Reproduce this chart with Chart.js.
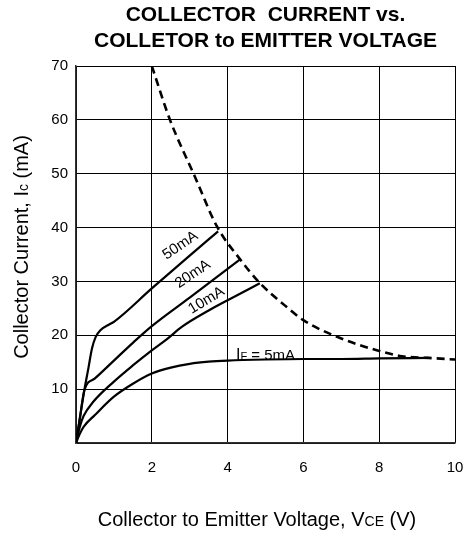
<!DOCTYPE html>
<html>
<head>
<meta charset="utf-8">
<script src="https://cdn.jsdelivr.net/npm/chart.js@4/dist/chart.umd.min.js"></script>
<style>
  html, body { margin: 0; padding: 0; background: #fff; }
  #wrap { width: 467px; height: 534px; }
</style>
</head>
<body>
<div id="wrap"><canvas id="icChart" width="467" height="534"></canvas></div>
<script>
// values (Vce in V, Ic in mA)
const vce50 = [0, 0.1, 0.22, 0.33, 0.42, 0.52, 0.65, 0.85, 1.0, 2.0, 3.0, 3.75];
const ic50  = [0, 4.5, 9.8, 14.0, 17.5, 19.7, 21.0, 21.9, 22.5, 28.7, 34.8, 39.3];

const vce20 = [0, 0.1, 0.22, 0.5, 1.0, 1.5, 2.0, 3.0, 4.33];
const ic20  = [0, 4.5, 9.8, 12.0, 15.3, 18.6, 21.7, 27.0, 34.1];

const vce10 = [0, 0.1, 0.2, 0.45, 1.0, 1.5, 2.0, 2.4, 2.8, 3.5, 4.0, 4.85];
const ic10  = [0, 3.0, 5.0, 7.6, 11.4, 14.4, 17.2, 19.3, 21.6, 24.6, 26.5, 29.65];

const vce5 = [0, 0.1, 0.2, 0.5, 1.0, 1.5, 2.0, 2.5, 3.0, 3.5, 4.0, 5.0, 6.0, 7.0, 8.0, 9.3];
const ic5  = [0, 1.7, 3.0, 5.2, 8.6, 11.0, 12.9, 14.0, 14.7, 15.1, 15.3, 15.5, 15.6, 15.6, 15.7, 15.8];

// max power dissipation limit (dashed)
const vceMax = [2.0, 2.48, 3.14, 3.72, 4.33, 4.85, 5.5, 6.0, 7.0, 8.0, 8.6, 9.3, 10];
const icMax  = [70, 60, 49.4, 40.2, 34.1, 29.7, 25.6, 22.8, 19.4, 17.1, 16.1, 15.8, 15.5];

const xTicks = [0, 2, 4, 6, 8, 10];
const yTicks = [0, 10, 20, 30, 40, 50, 60, 70];

const FONT = "'Liberation Sans', Arial, Helvetica, sans-serif";

function pts(xs, ys) {
    return xs.map((x, i) => ({ x: x, y: ys[i] }));
}

function curve(label, xs, ys, dashed) {
    return {
        label: label,
        data: pts(xs, ys),
        borderColor: '#000',
        borderWidth: dashed ? 2.6 : 2.2,
        borderDash: dashed ? [8, 5] : [],
        pointRadius: 0,
        fill: false,
        cubicInterpolationMode: 'monotone'
    };
}

// draw a row of text pieces with their own sizes, centred on x
function drawRuns(ctx, runs, x, y) {
    let total = 0;
    runs.forEach(r => {
        ctx.font = r[1] + 'px ' + FONT;
        total += ctx.measureText(r[0]).width;
    });
    let cx = x - total / 2;
    ctx.textAlign = 'left';
    ctx.textBaseline = 'alphabetic';
    runs.forEach(r => {
        ctx.font = r[1] + 'px ' + FONT;
        ctx.fillText(r[0], cx, y);
        cx += ctx.measureText(r[0]).width;
    });
}

// curve labels, placed in data units
const curveLabels = [
    { runs: [['50mA', 15]], x: 2.74, y: 36.8, angle: -34 },
    { runs: [['20mA', 15]], x: 3.07, y: 31.5, angle: -34 },
    { runs: [['10mA', 15]], x: 3.43, y: 26.6, angle: -31 },
    { runs: [['I', 16], ['F', 11], [' = 5mA', 15]], x: 5.0, y: 16.3, angle: 0 }
];

const textPlugin = {
    id: 'textPlugin',
    afterDraw(chart) {
        const ctx = chart.ctx;
        const xs = chart.scales.x, ys = chart.scales.y;
        ctx.save();
        ctx.fillStyle = '#000';

        curveLabels.forEach(l => {
            ctx.save();
            ctx.translate(xs.getPixelForValue(l.x), ys.getPixelForValue(l.y));
            ctx.rotate(l.angle * Math.PI / 180);
            drawRuns(ctx, l.runs, 0, 5);
            ctx.restore();
        });

        // x axis title
        drawRuns(ctx, [['Collector to Emitter Voltage, V', 20], ['CE', 14], [' (V)', 20]], 257, 526);

        // y axis title
        ctx.save();
        ctx.translate(28, 247);
        ctx.rotate(-Math.PI / 2);
        drawRuns(ctx, [['Collector Current, I', 20], ['c', 14], [' (mA)', 20]], 0, 0);
        ctx.restore();

        ctx.restore();
    }
};

const ctx = document.getElementById('icChart').getContext('2d');
const icChart = new Chart(ctx, {
    type: 'line',
    data: {
        datasets: [
            curve('50mA', vce50, ic50, false),
            curve('20mA', vce20, ic20, false),
            curve('10mA', vce10, ic10, false),
            curve('5mA', vce5, ic5, false),
            curve('Pc max', vceMax, icMax, true)
        ]
    },
    options: {
        responsive: false,
        animation: false,
        layout: { padding: { top: 3, right: 12, left: 0, bottom: 0 } },
        plugins: {
            legend: { display: false },
            tooltip: { enabled: false },
            title: {
                display: true,
                fullSize: false,
                text: ['COLLECTOR  CURRENT vs.', 'COLLETOR to EMITTER VOLTAGE'],
                color: '#000',
                font: { family: FONT, size: 21, weight: 'bold', lineHeight: 1.2 },
                padding: { top: 0, bottom: 12.6 }
            }
        },
        scales: {
            x: {
                type: 'linear',
                min: 0,
                max: 10,
                afterBuildTicks: s => { s.ticks = xTicks.map(v => ({ value: v })); },
                afterFit: s => { s.height = 91; },
                ticks: { color: '#000', padding: 3, font: { family: FONT, size: 15 } },
                grid: { color: '#000', lineWidth: 1, drawTicks: true, tickLength: 13, tickColor: 'rgba(0,0,0,0)' },
                border: { color: '#333', width: 1.5 }
            },
            y: {
                type: 'linear',
                min: 0,
                max: 70,
                afterBuildTicks: s => { s.ticks = yTicks.map(v => ({ value: v })); },
                afterFit: s => { s.width = 76; },
                ticks: {
                    color: '#000',
                    padding: 8,
                    font: { family: FONT, size: 15 },
                    callback: v => (v === 0 ? '' : v)
                },
                grid: { color: '#000', lineWidth: 1, drawTicks: false },
                border: { color: '#333', width: 1.5 }
            }
        }
    },
    plugins: [textPlugin]
});
</script>
</body>
</html>
